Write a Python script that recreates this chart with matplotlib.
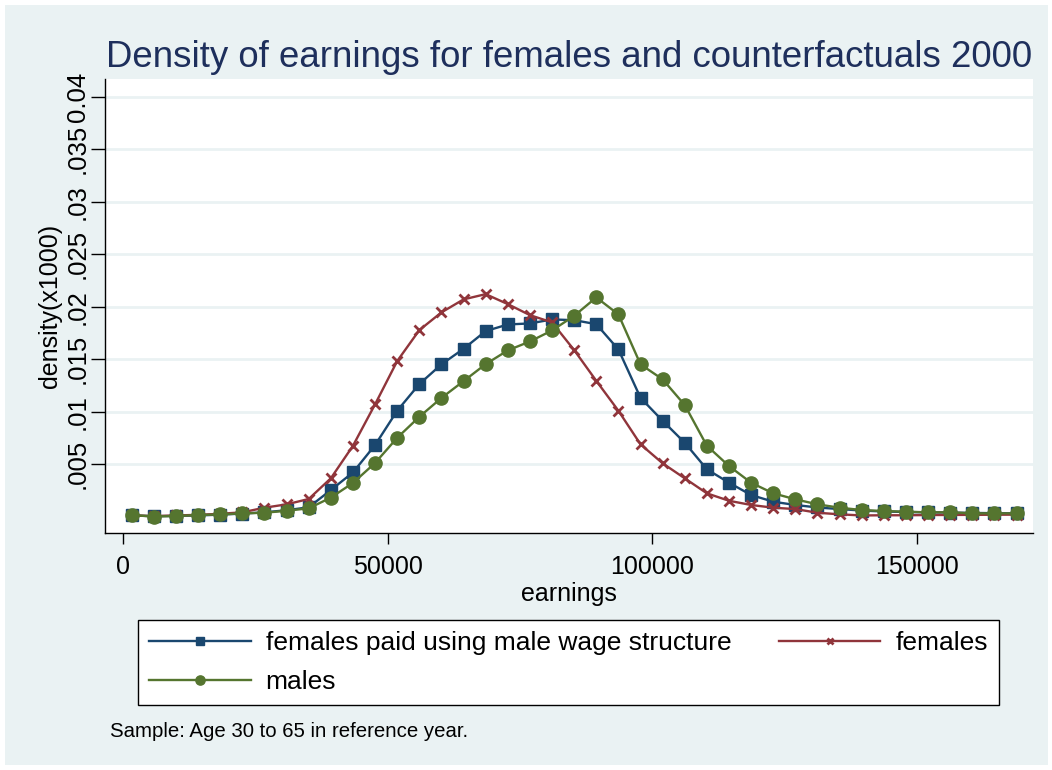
import matplotlib.pyplot as plt
from matplotlib.patches import Rectangle

plt.rcParams['font.family'] = ['Liberation Sans', 'DejaVu Sans']

# earnings grid (bin midpoints)
earnings = [1650, 5830, 10010, 14190, 18370, 22550, 26730, 30910, 35090, 39270,
            43450, 47630, 51810, 55990, 60170, 64350, 68530, 72710, 76890, 81070,
            85250, 89430, 93610, 97790, 101970, 106150, 110330, 114510, 118690, 122870,
            127050, 131230, 135410, 139590, 143770, 147950, 152130, 156310, 160490, 164670,
            168850]

# density (x1000) per series
dens_cf = [0.0001, 0.00003, 0.00006, 0.0001, 0.00018, 0.00028, 0.0004, 0.0006, 0.00088, 0.00252,
           0.0042, 0.00681, 0.01008, 0.01262, 0.0145, 0.01598, 0.01767, 0.0183, 0.0184, 0.01878,
           0.01871, 0.01833, 0.01592, 0.01131, 0.00912, 0.00703, 0.0045, 0.00322, 0.00205, 0.00141,
           0.0011, 0.00086, 0.00071, 0.00057, 0.00048, 0.00043, 0.0004, 0.00038, 0.00034, 0.00032,
           0.0003]
dens_fem = [0.0001, 0.00004, 0.0001, 0.00016, 0.00026, 0.0004, 0.00084, 0.00116, 0.00167, 0.00364,
            0.00674, 0.01069, 0.01481, 0.01776, 0.01945, 0.02069, 0.02119, 0.02024, 0.01919, 0.0185,
            0.01586, 0.01293, 0.01008, 0.00688, 0.00507, 0.00364, 0.00221, 0.0015, 0.0011, 0.00084,
            0.00071, 0.00036, 0.00021, 0.0001, 0.00012, 0.00012, 0.00014, 0.00015, 0.00016, 0.00017,
            0.00018]
dens_male = [0.00014, 0.0, 0.00005, 0.00014, 0.0002, 0.0003, 0.00036, 0.00055, 0.00078, 0.0018,
             0.0032, 0.0051, 0.0075, 0.0095, 0.0113, 0.0129, 0.01452, 0.01583, 0.01668, 0.01773,
             0.01912, 0.02088, 0.01926, 0.0145, 0.01307, 0.01062, 0.00674, 0.00481, 0.00322, 0.00221,
             0.00164, 0.00116, 0.00084, 0.00062, 0.00052, 0.00046, 0.0004, 0.0004, 0.0003, 0.0003,
             0.0003]

yticks = [0.005, 0.01, 0.015, 0.02, 0.025, 0.03, 0.035, 0.04]
ytick_labels = ['.005', '.01', '.015', '.02', '.025', '.03', '.035', '0.04']
xticks = [0, 50000, 100000, 150000]

W, H = 1052, 770
navy, maroon, green = '#1a476f', '#90353b', '#55752f'
bg = '#eaf2f3'

fig = plt.figure(figsize=(W / 100, H / 100), dpi=100, facecolor='white')
# light graph region inside a thin white margin
fig.patches.append(Rectangle((5 / W, 5 / H), 1043 / W, 760 / H, transform=fig.transFigure,
                             facecolor=bg, edgecolor='none', zorder=-10))

ax = fig.add_axes([105 / W, 1 - 533 / H, (1033 - 105) / W, (533 - 79) / H])
ax.set_facecolor('white')

l1, = ax.plot(earnings, dens_cf, color=navy, lw=1.7, marker='s', ms=8, zorder=3)
l2, = ax.plot(earnings, dens_fem, color=maroon, lw=1.7, marker='x', ms=6.5, mew=2, zorder=3)
l3, = ax.plot(earnings, dens_male, color=green, lw=1.7, marker='o', ms=9.5, zorder=3)

ax.set_xlim(-3400, 171950)
ax.set_ylim(-0.00157, 0.04169)
ax.set_xticks(xticks)
ax.set_xticklabels([str(v) for v in xticks], fontsize=18)
ax.set_yticks(yticks)
ax.set_yticklabels(ytick_labels, fontsize=18.5, rotation=90, va='center')
ax.tick_params(axis='x', length=8, width=1, pad=8)
ax.tick_params(axis='y', length=10, width=1, pad=1)

for y in yticks:
    ax.axhline(y, color=bg, lw=2, zorder=1)

for s in ['top', 'right']:
    ax.spines[s].set_visible(False)
for s in ['left', 'bottom']:
    ax.spines[s].set_linewidth(1)
    ax.spines[s].set_color('black')

ax.set_xlabel('earnings', fontsize=18, labelpad=2)
ax.set_ylabel('density(x1000)', fontsize=18, labelpad=3)

fig.text(569 / W, 1 - 67 / H, 'Density of earnings for females and counterfactuals 2000',
         ha='center', va='baseline', fontsize=26.4, color='#1e2f5c')

leg = fig.legend([l1, l3, l2],
                 ['females paid using male wage structure', 'males', 'females'],
                 ncol=2, loc='center', bbox_to_anchor=(568.5 / W, 1 - 662.5 / H),
                 fontsize=19, frameon=True, fancybox=False, handlelength=3.85,
                 handletextpad=0.57, columnspacing=1.8, labelspacing=0.55,
                 borderpad=0.42, markerscale=0.7, framealpha=1)
leg.get_frame().set_edgecolor('black')
leg.get_frame().set_facecolor('white')
leg.get_frame().set_linewidth(1)

fig.text(110 / W, 1 - 737 / H, 'Sample: Age 30 to 65 in reference year.',
         ha='left', va='baseline', fontsize=14.7)

fig.savefig('out.png', dpi=100, facecolor=fig.get_facecolor())
